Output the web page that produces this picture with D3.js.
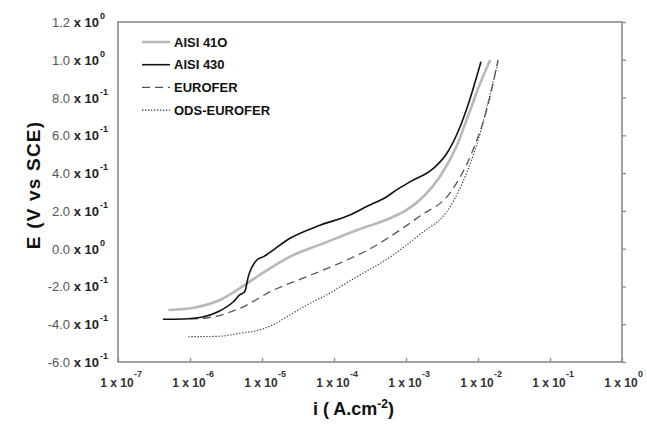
<!DOCTYPE html>
<html>
<head>
<meta charset="utf-8">
<script src="https://cdn.jsdelivr.net/npm/d3@7"></script>
<style>
	body { margin:0; background:#fff; }
	svg { font-family: Arial, "Liberation Sans", sans-serif; }
</style>
</head>
<body>
<svg id="chart" width="647" height="429"></svg>
<script>
// current density (A/cm2) and potential (V vs SCE)
const aisi430_i = [4.2e-7, 8e-7, 1.45e-6, 2.45e-6, 4.0e-6, 4.9e-6, 5.75e-6, 6.45e-6, 8.5e-6, 1.05e-5, 2.45e-5, 6.5e-5, 1.66e-4, 2.8e-4, 5.4e-4, 7.4e-4, 1.15e-3, 2.4e-3, 3.7e-3, 5.4e-3, 7.4e-3, 1.1e-2];
const aisi430_E = [-0.374, -0.372, -0.363, -0.334, -0.281, -0.245, -0.228, -0.148, -0.06, -0.042, 0.055, 0.125, 0.178, 0.222, 0.275, 0.311, 0.355, 0.425, 0.505, 0.628, 0.77, 0.99];

const aisi410_i = [5.0e-7, 1.23e-6, 2.6e-6, 4.9e-6, 9.3e-6, 2.45e-5, 7.1e-5, 2.1e-4, 6.0e-4, 1.02e-3, 1.74e-3, 2.95e-3, 5.0e-3, 7.8e-3, 1.07e-2, 1.48e-2];
const aisi410_E = [-0.325, -0.31, -0.272, -0.21, -0.139, -0.042, 0.028, 0.099, 0.161, 0.205, 0.275, 0.381, 0.54, 0.734, 0.875, 0.999];

const eurofer_i = [1.0e-6, 1.7e-6, 4.9e-6, 1.45e-5, 4.2e-5, 1.2e-4, 3.55e-4, 8.3e-4, 1.55e-3, 4.1e-3, 8.5e-3, 1.32e-2, 1.9e-2];
const eurofer_E = [-0.372, -0.367, -0.316, -0.219, -0.148, -0.077, 0.01, 0.099, 0.172, 0.296, 0.522, 0.734, 0.999];

const ods_i = [9.5e-7, 2.5e-6, 4.9e-6, 9.3e-6, 1.5e-5, 2.45e-5, 4.2e-5, 7.1e-5, 2.1e-4, 6.0e-4, 1.55e-3, 4.1e-3, 6.9e-3, 1.07e-2, 1.48e-2, 1.9e-2];
const ods_E = [-0.466, -0.464, -0.448, -0.43, -0.399, -0.351, -0.298, -0.254, -0.148, -0.045, 0.075, 0.222, 0.399, 0.61, 0.822, 0.99];

const seriesNames = ["AISI 41O", "AISI 430", "EUROFER", "ODS-EUROFER"];
const xTicks = [1e-7, 1e-6, 1e-5, 1e-4, 1e-3, 1e-2, 1e-1, 1e0];
const yTicks = [-0.6, -0.4, -0.2, 0.0, 0.2, 0.4, 0.6, 0.8, 1.0, 1.2];

const styles = [
	{color:"#b8b8b8", width:2.6, dash:null},
	{color:"#111", width:1.6, dash:null},
	{color:"#555", width:1.3, dash:"8,5"},
	{color:"#333", width:1.1, dash:"1.3,1.7"}
];

const drawChart = (svg_name) => {
	let chart = d3.select(svg_name);
	let margin = {left:118, right:25, top:22, bottom:67};
	let width = +chart.attr("width"), height = +chart.attr("height");

	let x = d3.scaleLog()
				.domain([1e-7, 1e0])
				.range([margin.left, width - margin.right]);
	let y = d3.scaleLinear()
				.domain([-0.6, 1.2])
				.range([height - margin.bottom, margin.top]);

	let series = [
		d3.zip(aisi410_i, aisi410_E),
		d3.zip(aisi430_i, aisi430_E),
		d3.zip(eurofer_i, eurofer_E),
		d3.zip(ods_i, ods_E)
	];

	addFrame(chart, x, y, margin, width, height);
	addLines(chart, series, x, y);
	addLegend(chart);
	addTitles(chart);
}

const addFrame = (chart, x, y, margin, width, height) => {
	let frameColor = "#8a8a8a";
	// right side ticks, outward
	chart.append("g")
		.attr("transform", `translate(${width - margin.right},0)`)
		.call(d3.axisRight(y).tickValues(yTicks).tickSize(4).tickFormat(""))
		.call(g => g.select(".domain").remove())
		.selectAll("line").style("stroke", frameColor).style("stroke-width", 1.3);

	// bottom ticks, pointing inward
	chart.append("g")
		.attr("transform", `translate(0,${height - margin.bottom})`)
		.call(d3.axisBottom(x).tickValues(xTicks).tickSize(-4).tickFormat(""))
		.call(g => g.select(".domain").remove())
		.selectAll("line").style("stroke", frameColor).style("stroke-width", 1.3);

	chart.append("rect")
		.attr("x", margin.left)
		.attr("y", margin.top)
		.attr("width", width - margin.left - margin.right)
		.attr("height", height - margin.top - margin.bottom)
		.style("fill", "none")
		.style("stroke", frameColor)
		.style("stroke-width", 1.6);

	// x tick labels: 1 x 10^n
	xTicks.forEach((t) => {
		let px = x(t);
		let ex = Math.round(Math.log10(t));
		chart.append("text")
			.attr("x", px - 1)
			.attr("y", height - margin.bottom + 25)
			.style("text-anchor", "middle")
			.style("font-size", "12px")
			.style("font-weight", "bold")
			.style("fill", "#333")
			.text("1 x 10");
		chart.append("text")
			.attr("x", px + 16)
			.attr("y", height - margin.bottom + 15)
			.style("font-size", "9px")
			.style("font-weight", "bold")
			.style("fill", "#333")
			.text(ex);
	});

	// y tick labels: m.m x 10^n
	yTicks.forEach((t) => {
		let py = y(t);
		let ex = (Math.abs(t) < 1e-9 || Math.abs(t) >= 1) ? 0 : -1;
		let mant = (t / Math.pow(10, ex)).toFixed(1);
		let lbl = chart.append("text")
			.attr("x", 99)
			.attr("y", py + 5)
			.style("text-anchor", "end")
			.style("font-size", "13px");
		lbl.append("tspan").style("fill", "#555").text(mant);
		lbl.append("tspan").style("fill", "#222").style("font-weight", "bold").text(" x 10");
		chart.append("text")
			.attr("x", 100)
			.attr("y", py - 3)
			.style("font-size", "9px")
			.style("font-weight", "bold")
			.style("fill", "#222")
			.text(ex);
	});
}

const addLines = (chart, series, x, y) => {
	let valueLine = d3.line()
		.x((d) => { return x(d[0]); })
		.y((d) => { return y(d[1]); })
		.curve(d3.curveMonotoneX);
	// gray first, then dotted & dashed, black on top
	[0, 3, 2, 1].forEach((k) => {
		chart.append("path")
			.datum(series[k])
			.attr("d", valueLine)
			.style("fill", "none")
			.style("stroke", styles[k].color)
			.style("stroke-width", styles[k].width)
			.style("stroke-dasharray", styles[k].dash);
	});
}

const addLegend = (chart) => {
	let legend = chart.append("g");
	seriesNames.forEach((name, k) => {
		let ly = 42 + k * 22.7;
		legend.append("line")
			.attr("x1", 142).attr("x2", 170)
			.attr("y1", ly).attr("y2", ly)
			.style("stroke", styles[k].color)
			.style("stroke-width", styles[k].width)
			.style("stroke-dasharray", styles[k].dash);
		legend.append("text")
			.attr("x", 174)
			.attr("y", ly + 4.5)
			.style("font-size", "13px")
			.style("font-weight", "bold")
			.style("fill", "#111")
			.text(name);
	});
}

const addTitles = (chart) => {
	chart.append("text")
		.attr("transform", "rotate(-90)")
		.attr("x", -185)
		.attr("y", 40)
		.style("text-anchor", "middle")
		.style("font-size", "19px")
		.style("font-weight", "bold")
		.style("letter-spacing", "1.2px")
		.style("fill", "#111")
		.text("E (V vs SCE)");

	let t = chart.append("text")
		.attr("x", 313)
		.attr("y", 415)
		.style("font-size", "18px")
		.style("font-weight", "bold")
		.style("fill", "#111");
	t.append("tspan").text("i ( A.cm");
	t.append("tspan").attr("dy", -7).style("font-size", "12px").text("-2");
	t.append("tspan").attr("dy", 7).text(")");
}

drawChart("#chart");
</script>
</body>
</html>
